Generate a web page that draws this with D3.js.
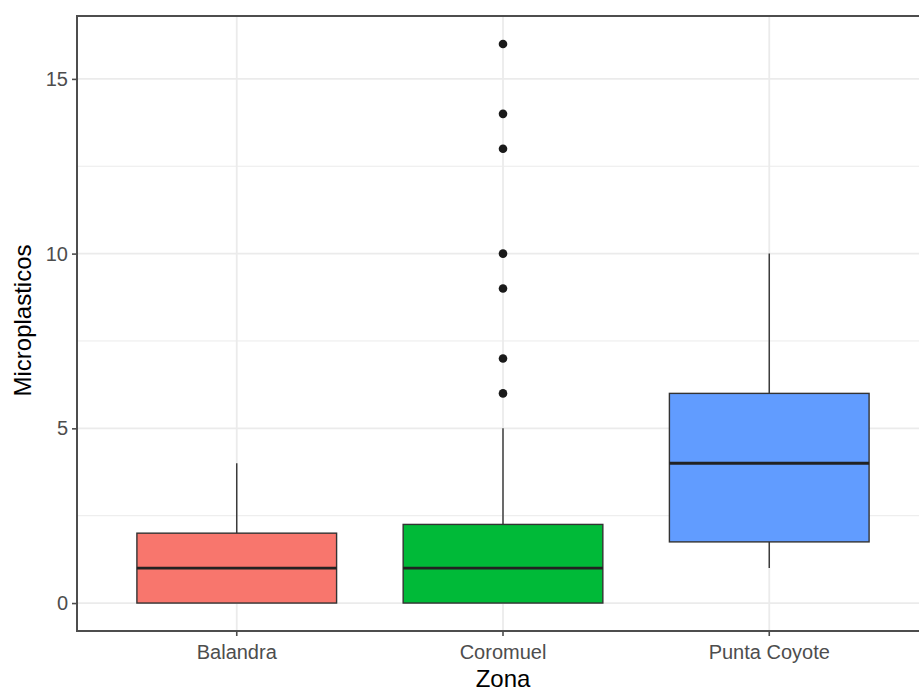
<!DOCTYPE html>
<html>
<head>
<meta charset="utf-8">
<script src="https://cdn.jsdelivr.net/npm/d3@7"></script>
<style>
  html, body { margin: 0; padding: 0; background: #fff; }
  svg { display: block; }
  text { font-family: "Liberation Sans", Arial, sans-serif; }
</style>
</head>
<body>
<svg id="chart" width="919" height="691"></svg>
<script>
// Microplastic counts per zone: box-plot summaries
const zonas = ["Balandra", "Coromuel", "Punta Coyote"];
const colores = ["#F8766D", "#00BA38", "#619CFF"];
const whiskerLow = [0, 0, 1];
const q1 = [0, 0, 1.75];
const mediana = [1, 1, 4];
const q3 = [2, 2.25, 6];
const whiskerHigh = [4, 5, 10];
const atipicos = [[], [6, 7, 9, 10, 13, 14, 16], []];
const yTicks = [0, 5, 10, 15];
const yMinor = [2.5, 7.5, 12.5];

const svg = d3.select("#chart");
const panel = { left: 77, top: 16, right: 929, bottom: 631 };

const y = d3.scaleLinear().domain([-0.8, 16.8]).range([panel.bottom, panel.top]);
const x = d3.scaleBand().domain(zonas)
  .range([panel.left, panel.right]).paddingInner(0).paddingOuter(0.1);
// band center
const cx = d => x(d) + x.bandwidth() / 2;
const boxW = x.bandwidth() * 0.75;

const g = svg.append("g");

// grid lines
g.selectAll(".minor").data(yMinor).join("line")
  .attr("x1", panel.left).attr("x2", panel.right)
  .attr("y1", d => y(d)).attr("y2", d => y(d))
  .attr("stroke", "#ebebeb").attr("stroke-width", 1);
g.selectAll(".majorY").data(yTicks).join("line")
  .attr("x1", panel.left).attr("x2", panel.right)
  .attr("y1", d => y(d)).attr("y2", d => y(d))
  .attr("stroke", "#ebebeb").attr("stroke-width", 1.8);
g.selectAll(".majorX").data(zonas).join("line")
  .attr("x1", d => cx(d)).attr("x2", d => cx(d))
  .attr("y1", panel.top).attr("y2", panel.bottom)
  .attr("stroke", "#ebebeb").attr("stroke-width", 1.8);

const stroke = "#333333";
const boxes = zonas.map((z, i) => ({ z, i }));

// whiskers
g.selectAll(".wl").data(boxes).join("line")
  .attr("x1", d => cx(d.z)).attr("x2", d => cx(d.z))
  .attr("y1", d => y(whiskerLow[d.i])).attr("y2", d => y(q1[d.i]))
  .attr("stroke", stroke).attr("stroke-width", 1.4);
g.selectAll(".wh").data(boxes).join("line")
  .attr("x1", d => cx(d.z)).attr("x2", d => cx(d.z))
  .attr("y1", d => y(q3[d.i])).attr("y2", d => y(whiskerHigh[d.i]))
  .attr("stroke", stroke).attr("stroke-width", 1.4);

// boxes
g.selectAll(".box").data(boxes).join("rect")
  .attr("x", d => cx(d.z) - boxW / 2)
  .attr("width", boxW)
  .attr("y", d => y(q3[d.i]))
  .attr("height", d => y(q1[d.i]) - y(q3[d.i]))
  .attr("fill", d => colores[d.i])
  .attr("stroke", stroke).attr("stroke-width", 1.4);

// medians
g.selectAll(".med").data(boxes).join("line")
  .attr("x1", d => cx(d.z) - boxW / 2).attr("x2", d => cx(d.z) + boxW / 2)
  .attr("y1", d => y(mediana[d.i])).attr("y2", d => y(mediana[d.i]))
  .attr("stroke", "#222222").attr("stroke-width", 2.8);

// outliers
const pts = boxes.flatMap(d => atipicos[d.i].map(v => ({ z: d.z, v })));
g.selectAll(".out").data(pts).join("circle")
  .attr("cx", d => cx(d.z)).attr("cy", d => y(d.v))
  .attr("r", 4.3).attr("fill", "#1a1a1a");

// panel border
g.append("rect")
  .attr("x", panel.left).attr("y", panel.top)
  .attr("width", panel.right - panel.left).attr("height", panel.bottom - panel.top)
  .attr("fill", "none").attr("stroke", "#4d4d4d").attr("stroke-width", 2);

// axes
const yAxis = d3.axisLeft(y).tickValues(yTicks).tickSize(5).tickPadding(4);
const ya = svg.append("g").attr("transform", `translate(${panel.left},0)`).call(yAxis);
ya.select(".domain").remove();
ya.selectAll(".tick line").attr("stroke", "#4d4d4d").attr("stroke-width", 1.6);
ya.selectAll(".tick text").attr("fill", "#4d4d4d")
  .style("font-size", "20px").style("font-family", "'Liberation Sans', Arial, sans-serif");

const xAxis = d3.axisBottom(x).tickSize(5).tickPadding(9);
const xa = svg.append("g").attr("transform", `translate(0,${panel.bottom})`).call(xAxis);
xa.select(".domain").remove();
xa.selectAll(".tick line").attr("stroke", "#4d4d4d").attr("stroke-width", 1.6);
xa.selectAll(".tick text").attr("fill", "#4d4d4d")
  .style("font-size", "20px").style("font-family", "'Liberation Sans', Arial, sans-serif");

// axis titles
svg.append("text")
  .attr("x", cx("Coromuel")).attr("y", 687)
  .attr("text-anchor", "middle")
  .style("font-size", "24px").attr("fill", "#000")
  .text("Zona");
svg.append("text")
  .attr("transform", `translate(31,${(panel.top + panel.bottom) / 2 - 3}) rotate(-90)`)
  .attr("text-anchor", "middle")
  .style("font-size", "24px").attr("fill", "#000")
  .text("Microplasticos");
</script>
</body>
</html>
